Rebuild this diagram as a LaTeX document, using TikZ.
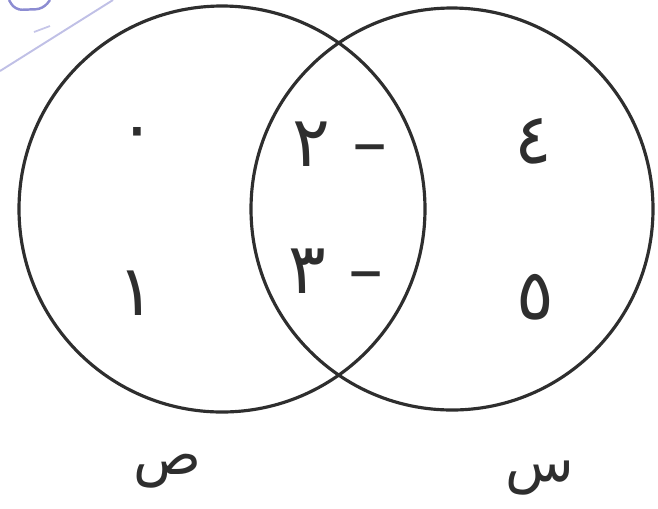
\documentclass[tikz,border=0pt]{standalone}
\usepackage{fontspec}
\newfontfamily\arabicfont[Script=Arabic]{DejaVu Sans}
\TeXXeTstate=1
\definecolor{ink}{HTML}{2E2E2E}
\definecolor{stamp}{HTML}{8C8CD2}

\begin{document}
\begin{tikzpicture}[x=0.02cm,y=-0.02cm,
  setline/.style={ink,line width=1.8pt},
  numtext/.style={text=ink,inner sep=0pt,font=\arabicfont\fontsize{40}{46}\selectfont},
  setname/.style={text=ink,inner sep=0pt,font=\arabicfont\fontsize{32}{38}\selectfont}]
\useasboundingbox (0,0) rectangle (658,508);
% faint stamp in the corner
\draw[stamp!55,line width=1.1pt] (0,71) -- (113,0);
\draw[stamp,line width=1.4pt,rounded corners=4pt] (9,0) -- (15,10) -- (43,9) -- (50,0);
\draw[stamp!50,line width=1pt] (34,32) -- (50,26);
% the two sets
\coordinate (cS) at (222,209);
\coordinate (cR) at (452,209);
\draw[setline] (cS) circle (203);
\draw[setline] (cR) circle (201);
% elements
\node[numtext] (zero) at (137,139) {٠};
\node[numtext] (one) at (136,293) {١};
\node[numtext] (mtwo) at (340,144) {\beginR – ٢\endR};
\node[numtext] (mthree) at (336,271) {\beginR – ٣\endR};
\node[numtext] (four) at (533,141) {٤};
\node[numtext] (five) at (535,297) {٥};
% set names
\node[setname] (nameS) at (167,471) {\beginR ص\endR};
\node[setname] (nameR) at (540,478) {\beginR س\endR};
\end{tikzpicture}
\end{document}
